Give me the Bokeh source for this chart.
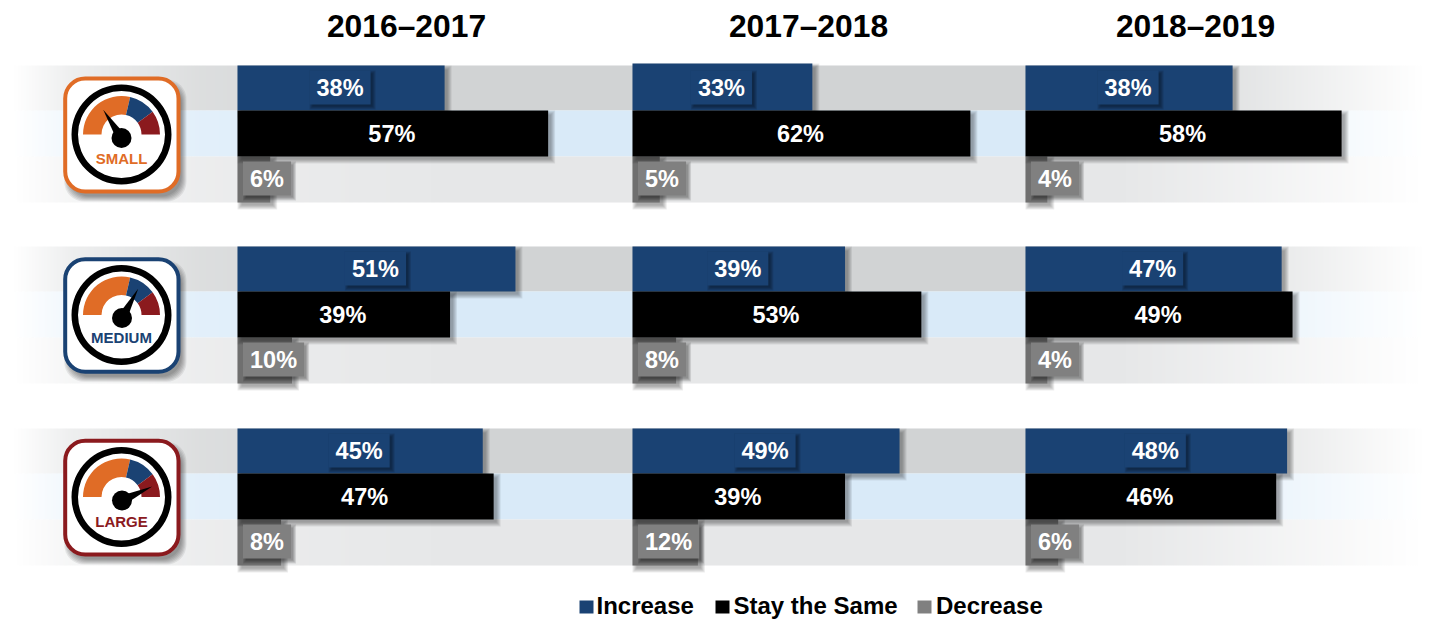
import numpy as np
from bokeh.core.properties import value
from bokeh.embed import file_html
from bokeh.models import Range1d
from bokeh.plotting import figure
from bokeh.resources import INLINE

# ---- data ----
periods = ["2016–2017", "2017–2018", "2018–2019"]
sizes = ["SMALL", "MEDIUM", "LARGE"]
series = ["Increase", "Stay the Same", "Decrease"]
small_increase = [38, 33, 38]
small_same = [57, 62, 58]
small_decrease = [6, 5, 4]
medium_increase = [51, 39, 47]
medium_same = [39, 53, 49]
medium_decrease = [10, 8, 4]
large_increase = [45, 49, 48]
large_same = [47, 39, 46]
large_decrease = [8, 12, 6]
table = [
    [small_increase, small_same, small_decrease],
    [medium_increase, medium_same, medium_decrease],
    [large_increase, large_same, large_decrease],
]

# ---- style / layout ----
FONT = value("Liberation Sans")
NAVY, BLACK, GREY, GREY_BAR = "#1a4273", "#000000", "#808080", "#6f6f6f"
ORANGE, RED = "#e06c26", "#8b1a1e"
W, H = 1430, 619
PX_PER_PCT = 5.45
PX = 1 / PX_PER_PCT
panel_x0 = [237, 632, 1025]
title_x = [406, 808, 1195]
group_top = [65, 246, 428]
band_h = [45, 46, 46]
row_colors = [NAVY, BLACK, GREY_BAR]
band_colors = [(209, 211, 212), (217, 234, 248), (230, 231, 232)]
icon_top = [78, 258.7, 440.3]
icon_h = [113, 112.6, 113.7]
icon_color = [ORANGE, NAVY, RED]
label_y = [157.5, 336.5, 520.5]
ring_cy = [134, 314.5, 496.5]
needle_hub = [(121, 137.5), (121.5, 317.5), (121.5, 500)]
needle_tip = [(102.7, 109.3), (137.7, 288.3), (151.7, 486)]

p = figure(width=W, height=H, x_range=Range1d(0, W), y_range=Range1d(H, 0),
           x_axis_location=None, y_axis_location=None, toolbar_location=None,
           output_backend="svg", min_border=0, outline_line_color=None,
           background_fill_color="white", border_fill_color="white")
p.grid.visible = False

for i, x0 in enumerate(panel_x0):
    p.extra_x_ranges[f"p{i}"] = Range1d((0 - x0) / PX_PER_PCT, (W - x0) / PX_PER_PCT)


def shadow(left, right, top, bottom, dx=3, dy=3, layers=5, alpha=0.075, radius=0, **kw):
    unit = PX if kw else 1
    for k in range(layers):
        s = layers - 1 - k
        p.quad(left=left + (dx - s + 1) * unit, right=right + (dx + s) * unit,
               top=top + dy - s + 1, bottom=bottom + dy + s,
               fill_color="black", fill_alpha=alpha, line_color=None, border_radius=radius, **kw)


# ---- fading background bands ----
xs = np.arange(0, W)
fade = np.interp(xs, [12, 70, 200, 450, 1120, 1425], [0.0, 0.38, 0.76, 1.0, 1.0, 0.0])
for top in group_top:
    y = top
    for h, col in zip(band_h, band_colors):
        img = np.zeros((1, W), dtype=np.uint32)
        view = img.view(np.uint8).reshape((1, W, 4))
        view[..., 0], view[..., 1], view[..., 2] = col
        view[..., 3] = (fade * 255).astype(np.uint8)
        p.image_rgba(image=[img], x=0, y=y, dw=W, dh=h)
        y += h

# ---- bars and value labels ----
for g, rows in enumerate(table):
    top = group_top[g]
    tops = [top, top + band_h[0], top + band_h[0] + band_h[1], top + sum(band_h)]
    for r in (0, 2, 1):
        vals = rows[r]
        for c, v in enumerate(vals):
            rng = f"p{c}"
            bar_top = tops[r] - 2 if (g, r, c) == (0, 0, 1) else tops[r]
            shadow(0, v, bar_top, tops[r + 1], x_range_name=rng)
            p.quad(left=0, right=v, top=bar_top, bottom=tops[r + 1],
                   fill_color=row_colors[r], line_color=None, x_range_name=rng)
    for r in (0, 2, 1):
        vals = rows[r]
        for c, v in enumerate(vals):
            rng = f"p{c}"
            txt = f"{v}%"
            tw = 13.05 * (len(txt) - 1) + 21 + 14
            if r == 0:
                cx, ymid = v / 2 - PX, tops[r] + 22
            elif r == 2:
                cx, ymid = 6 * PX + tw / 2 * PX - 0.5 * PX, tops[r] + 22
            else:
                cx, ymid = v / 2 - PX, tops[r] + 23
            if r != 1:
                fill = NAVY if r == 0 else GREY
                shadow(cx - tw / 2 * PX, cx + tw / 2 * PX, ymid - 17, ymid + 17,
                       dx=2, dy=2, layers=4, alpha=0.11, x_range_name=rng)
                p.quad(left=cx - tw / 2 * PX, right=cx + tw / 2 * PX, top=ymid - 17, bottom=ymid + 17,
                       fill_color=fill, line_color=None, x_range_name=rng)
            p.text(x=[cx], y=[ymid + 0.5], text=[txt], text_color="white", text_font=FONT,
                   text_font_style="bold", text_font_size="23.5px", text_align="center",
                   text_baseline="middle", x_range_name=rng)

# ---- column titles ----
p.text(x=title_x, y=[25.5] * 3, text=periods, text_color="black", text_font=FONT,
       text_font_style="bold", text_font_size="31.8px", text_align="center", text_baseline="middle")

# ---- gauge icons ----
for g, name in enumerate(sizes):
    col = icon_color[g]
    t, h = icon_top[g], icon_h[g]
    l, r = 64.7, 178
    shadow(l, r, t, t + h, dx=3, dy=5, layers=6, alpha=0.075, radius=20)
    p.quad(left=l, right=r, top=t, bottom=t + h, fill_color="white", line_color=col,
           line_width=4, border_radius=20)
    cy = ring_cy[g]
    p.annulus(x=121, y=cy, inner_radius=43.5, outer_radius=50, fill_color="black", line_color=None)
    for a0, a1, c in [(77, 180, ORANGE), (36, 77, NAVY), (0, 36, RED)]:
        p.annular_wedge(x=121, y=cy, inner_radius=20, outer_radius=38.5,
                        start_angle=np.radians(a0), end_angle=np.radians(a1),
                        direction="anticlock", fill_color=c, line_color=None)
    hx, hy = needle_hub[g]
    tx, ty = needle_tip[g]
    d = np.array([tx - hx, ty - hy])
    n = np.array([-d[1], d[0]]) / np.hypot(*d) * 5
    p.patch(x=[tx, hx + n[0], hx - n[0]], y=[ty, hy + n[1], hy - n[1]], fill_color="black", line_color=None)
    p.scatter(x=[hx], y=[hy], size=20, marker="circle", fill_color="black", line_color=None)
    p.text(x=[121], y=[label_y[g]], text=[name], text_color=col, text_font=FONT, text_font_style="bold",
           text_font_size="15px", text_align="center", text_baseline="middle")

# ---- legend ----
legend_swatch = [579, 715, 917]
legend_text = [596, 733, 935.5]
legend_cols = [NAVY, BLACK, GREY]
for s, tx, col, name in zip(legend_swatch, legend_text, legend_cols, series):
    p.quad(left=s, right=s + 14, top=600, bottom=613, fill_color=col, line_color=None)
    p.text(x=[tx], y=[604.5], text=[name], text_color="black", text_font=FONT, text_font_style="bold",
           text_font_size="24px", text_align="left", text_baseline="middle")

open("out.html", "w").write(file_html(p, INLINE))
